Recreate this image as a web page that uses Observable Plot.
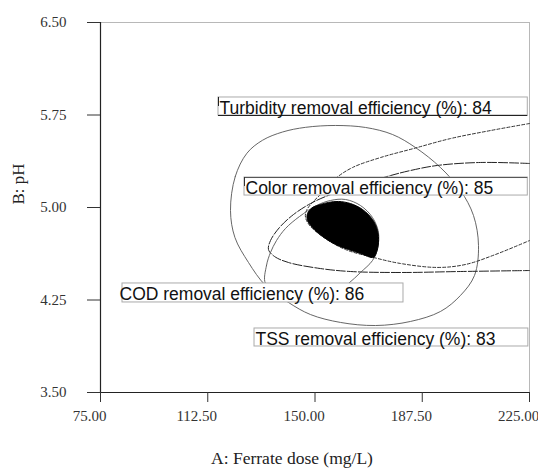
<!DOCTYPE html>
<html>
<head>
<meta charset="utf-8">
<script src="https://cdn.jsdelivr.net/npm/d3@7"></script>
<script src="https://cdn.jsdelivr.net/npm/@observablehq/plot@0.6"></script>
<style>
  html, body { margin: 0; padding: 0; background: #fff; }
</style>
</head>
<body>
<div id="chart"></div>
<script>
// Axis ticks
const xTicks = [75, 112.5, 150, 187.5, 225];
const yTicks = [3.5, 4.25, 5.0, 5.75, 6.5];

// Contour curves: [Ferrate dose (mg/L), pH]
const contourEllipse = [
  [120.45, 4.976], [122.10, 5.250], [126.20, 5.440], [131.64, 5.545], [138.64, 5.612],
  [146.68, 5.650], [157.17, 5.665], [167.66, 5.649], [177.10, 5.592], [185.14, 5.486],
  [193.88, 5.324], [200.87, 5.138], [205.42, 4.935], [207.17, 4.692], [205.77, 4.449],
  [200.87, 4.287], [193.88, 4.157], [183.39, 4.076], [171.15, 4.043], [158.92, 4.068],
  [148.43, 4.132], [140.73, 4.230], [132.69, 4.368], [126.75, 4.554], [122.00, 4.757]
];
const contourDashed = [
  [225.00, 5.681], [211.36, 5.624], [197.38, 5.559], [184.44, 5.478], [172.90, 5.405],
  [163.11, 5.324], [157.17, 5.235], [152.62, 5.122], [149.13, 5.041], [147.03, 4.976],
  [146.68, 4.919], [148.43, 4.846], [153.67, 4.749], [160.66, 4.659], [170.45, 4.595],
  [179.90, 4.546], [192.83, 4.514], [202.62, 4.538], [213.11, 4.619], [225.00, 4.732]
];
const contourLong = [
  [225.00, 5.357], [207.87, 5.365], [192.83, 5.341], [183.39, 5.300], [176.40, 5.259],
  [165.91, 5.186], [155.42, 5.105], [148.43, 5.032], [142.48, 4.943], [137.59, 4.838],
  [134.44, 4.732], [133.74, 4.659], [135.84, 4.603], [140.73, 4.554], [151.92, 4.505],
  [162.41, 4.481], [179.90, 4.473], [200.87, 4.481], [225.00, 4.489]
];
const contourCOD = [
  [132.69, 4.384], [133.04, 4.530], [134.44, 4.635], [136.54, 4.732], [139.69, 4.830],
  [144.58, 4.927], [150.52, 5.016], [155.42, 5.057], [160.66, 5.065], [165.91, 5.016],
  [170.10, 4.919], [172.20, 4.797], [171.85, 4.668], [170.10, 4.570], [165.91, 4.473],
  [161.71, 4.384], [157.17, 4.311], [146.68, 4.270], [137.94, 4.303]
];
// Optimal (overlay) region
const optimumRegion = [
  [147.38, 4.951], [149.13, 5.000], [151.92, 5.024], [154.72, 5.041], [158.22, 5.049],
  [162.41, 5.032], [166.61, 4.984], [170.10, 4.903], [171.85, 4.814], [172.20, 4.716],
  [171.50, 4.635], [170.45, 4.595], [165.91, 4.627], [161.71, 4.659], [157.17, 4.700],
  [152.62, 4.765], [149.13, 4.838], [147.38, 4.895]
];

// Flag labels
const labelTexts = [
  "Turbidity removal efficiency (%): 84",
  "Color removal efficiency (%): 85",
  "COD removal efficiency (%): 86",
  "TSS removal efficiency (%): 83"
];
const labelTextX = [116.61, 125.70, 81.64, 129.20];
const labelTextY = [5.819, 5.170, 4.307, 3.946];
const labelBoxX1 = [116.26, 125.35, 82.69, 128.85];
const labelBoxX2 = [224.40, 224.40, 180.94, 224.60];
const labelBoxYTop = [5.892, 5.243, 4.384, 4.019];
const labelBoxYBottom = [5.746, 5.097, 4.230, 3.873];

// Axis titles
const xTitle = "A: Ferrate dose (mg/L)";
const yTitle = "B: pH";

const labels = labelTexts.map((t, i) => ({
  text: t, tx: labelTextX[i], ty: labelTextY[i],
  x1: labelBoxX1[i], x2: labelBoxX2[i], y1: labelBoxYBottom[i], y2: labelBoxYTop[i]
}));

const fmt = d3.format(".2f");
const px = d => d[0], py = d => d[1];
const sans = "'Liberation Sans', Arial, Helvetica, sans-serif";
const serif = "'Liberation Serif', 'Times New Roman', serif";

const chart = Plot.plot({
  width: 538,
  height: 473,
  marginLeft: 100,
  marginRight: 9,
  marginTop: 22,
  marginBottom: 81,
  x: {domain: [75, 225]},
  y: {domain: [3.5, 6.5]},
  style: {fontFamily: serif, fontSize: "15px", color: "#222", background: "#fff"},
  marks: [
    Plot.frame({stroke: "#b8b8b8"}),
    Plot.line(contourEllipse, {x: px, y: py, curve: "catmull-rom-closed", stroke: "#555", strokeWidth: 0.9}),
    Plot.line(contourDashed, {x: px, y: py, curve: "catmull-rom", stroke: "#333", strokeWidth: 1, strokeDasharray: "3,2"}),
    Plot.line(contourLong, {x: px, y: py, curve: "catmull-rom", stroke: "#222", strokeWidth: 1, strokeDasharray: "9,2"}),
    Plot.line(contourCOD, {x: px, y: py, curve: "catmull-rom-closed", stroke: "#555", strokeWidth: 0.9}),
    Plot.line(optimumRegion, {x: px, y: py, curve: "catmull-rom-closed", fill: "#000", stroke: "#000", strokeWidth: 1}),
    Plot.rect(labels, {x1: "x1", x2: "x2", y1: "y1", y2: "y2", fill: "#fff", stroke: "#aaa", strokeWidth: 1}),
    Plot.ruleY([labels[0]], {x1: "x1", x2: "x2", y: "y1", stroke: "#222", strokeWidth: 1.2}),
    Plot.ruleX([labels[0]], {x: "x1", y1: "ty", y2: "y2", stroke: "#222", strokeWidth: 1}),
    Plot.ruleY([labels[1]], {x1: "x1", x2: "x2", y: "y2", stroke: "#555", strokeWidth: 1}),
    Plot.ruleX([labels[1]], {x: "x1", y1: "ty", y2: "y2", stroke: "#333", strokeWidth: 1}),
    Plot.text(labels, {x: "tx", y: "ty", text: "text", textAnchor: "start", fontFamily: sans, fontSize: 17.5, fill: "#111", dy: 1.5}),
    Plot.ruleX([75], {stroke: "#222", strokeWidth: 1.2}),
    Plot.ruleY([3.5], {stroke: "#222", strokeWidth: 1.2}),
    Plot.axisX(xTicks, {tickSize: 10, tickFormat: () => "", stroke: "#333", label: null}),
    Plot.axisX(xTicks, {tickSize: 0, tickPadding: 18, dx: -11, tickFormat: fmt, fill: "#333", label: null}),
    Plot.axisY(yTicks, {tickSize: 13, tickPadding: 21, tickFormat: fmt, stroke: "#333", fill: "#333", label: null}),
    Plot.text([xTitle], {frameAnchor: "bottom", dy: 71, dx: -23, text: d => d, fontFamily: serif, fontSize: 17.5, fill: "#222"}),
    Plot.text([yTitle], {x: () => 75, y: () => 5.19, dx: -82, rotate: -90, text: d => d, fontFamily: serif, fontSize: 17, fill: "#222", clip: false})
  ]
});
document.getElementById("chart").appendChild(chart);
</script>
</body>
</html>
